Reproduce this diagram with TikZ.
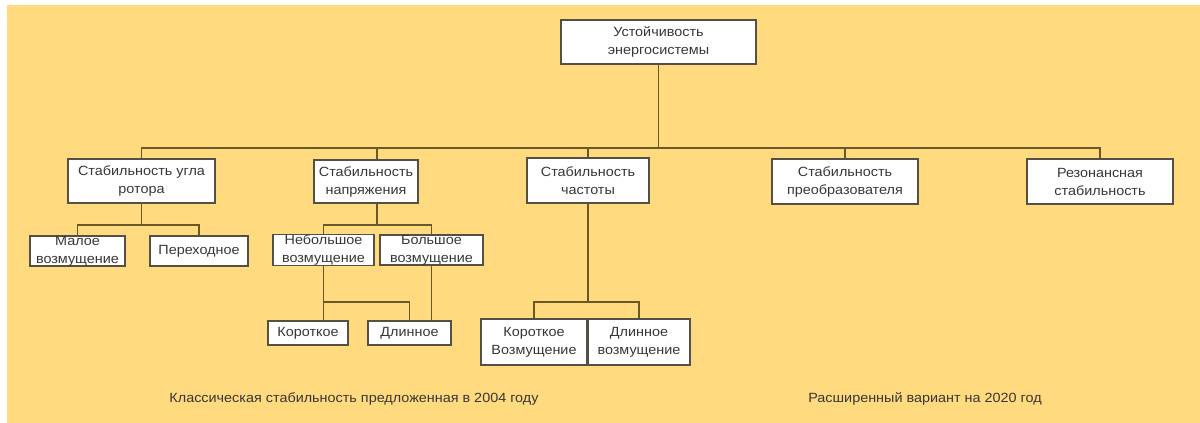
\documentclass[tikz,border=0pt]{standalone}
\usepackage{fontspec}
\setmainfont{Liberation Sans}[FakeStretch=1.08]
\definecolor{bgyellow}{RGB}{255,218,126}
\definecolor{linecol}{RGB}{105,88,40}
\definecolor{boxedge}{RGB}{85,80,70}
\definecolor{txt}{RGB}{55,55,55}
\tikzset{
  x=0.75pt, y=-0.75pt,
  nbox/.style={draw=boxedge, line width=0.9pt, fill=white, inner sep=0pt, align=center,
    text=txt, font=\fontsize{10}{13.5}\selectfont},
  conn/.style={draw=linecol, line width=1.1pt},
  caption/.style={text=txt, font=\fontsize{10}{12}\selectfont, inner sep=0pt}
}
\begin{document}
\begin{tikzpicture}
\useasboundingbox (0,0) rectangle (1200,423);
\fill[white] (0,0) rectangle (1200,423);
\fill[bgyellow] (7,5) rectangle (1200,423);

% root
\node[nbox, minimum width=195*0.75pt, minimum height=44*0.75pt] (root) at (658.5,42) {Устойчивость\\энергосистемы};

% level 1
\node[nbox, minimum width=147*0.75pt, minimum height=44*0.75pt] (angle) at (141.5,181) {Стабильность угла\\ротора};
\node[nbox, minimum width=104*0.75pt, minimum height=43*0.75pt] (volt) at (366,181.5) {Стабильность\\напряжения};
\node[nbox, minimum width=122*0.75pt, minimum height=45*0.75pt] (freq) at (588,180.5) {Стабильность\\частоты};
\node[nbox, minimum width=146*0.75pt, minimum height=45*0.75pt] (conv) at (845,181.5) {Стабильность\\преобразователя};
\node[nbox, minimum width=146*0.75pt, minimum height=45*0.75pt] (res) at (1100,181.5) {Резонансная\\стабильность};

% level 2
\node[nbox, minimum width=95*0.75pt, minimum height=30*0.75pt] (small) at (77.5,251) {Малое\\возмущение};
\node[nbox, minimum width=98*0.75pt, minimum height=30*0.75pt] (trans) at (199,251) {Переходное};
\node[nbox, minimum width=101*0.75pt, minimum height=30*0.75pt] (sdist) at (323.5,250) {Небольшое\\возмущение};
\node[nbox, minimum width=103*0.75pt, minimum height=30*0.75pt] (ldist) at (431.5,250) {Большое\\возмущение};

% level 3
\node[nbox, minimum width=80*0.75pt, minimum height=24*0.75pt] (shortv) at (308,333) {Короткое};
\node[nbox, minimum width=83*0.75pt, minimum height=24*0.75pt] (longv) at (409.5,333) {Длинное};
\node[nbox, minimum width=106*0.75pt, minimum height=46*0.75pt] (shortf) at (534,342) {Короткое\\Возмущение};
\node[nbox, minimum width=102*0.75pt, minimum height=46*0.75pt] (longf) at (639,342) {Длинное\\возмущение};

% captions
\node[caption] (cap1) at (354,399) {Классическая стабильность предложенная в 2004 году};
\node[caption] (cap2) at (925,399) {Расширенный вариант на 2020 год};

% bus coordinates
\coordinate (b0) at (658.5,148);
\coordinate (y225) at (0,225);
\coordinate (y302) at (0,302);
\coordinate (b1) at (angle.south |- y225);
\coordinate (vdrop) at ([xshift=11*0.75pt]volt.south);
\coordinate (b2) at (vdrop |- y225);
\coordinate (b3) at (freq.south |- y302);
\coordinate (b4) at (sdist.south |- y302);

% connectors
\draw[conn] (root.south) -- (b0);
\foreach \c in {angle,freq,conv,res} \draw[conn] (b0) -| (\c.north);
\draw[conn] (b0) -| ([xshift=11*0.75pt]volt.north);
\draw[conn] (angle.south) -- (b1);
\draw[conn] (b1) -| (small.north);
\draw[conn] (b1) -| (trans.north);
\draw[conn] (vdrop) -- (b2);
\draw[conn] (b2) -| (sdist.north);
\draw[conn] (b2) -| (ldist.north);
\draw[conn] (sdist.south) -- (sdist.south |- shortv.north);
\draw[conn] (b4) -| (longv.north);
\draw[conn] (ldist.south) -- (ldist.south |- longv.north);
\draw[conn] (freq.south) -- (b3);
\draw[conn] (b3) -| (shortf.north);
\draw[conn] (b3) -| (longf.north);
\end{tikzpicture}
\end{document}
